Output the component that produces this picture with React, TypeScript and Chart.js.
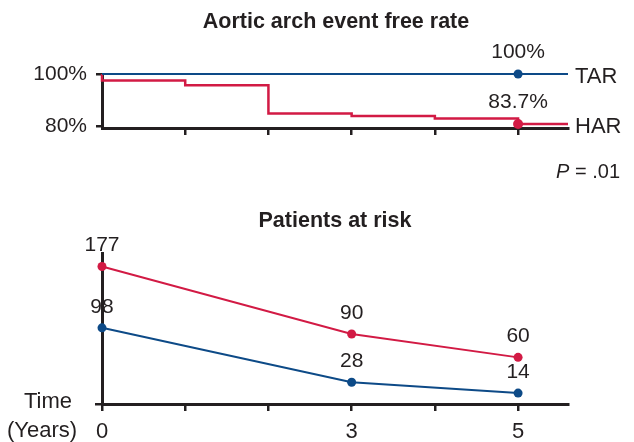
import React, { useEffect, useRef } from 'react';
import { Chart, registerables } from 'chart.js';

Chart.register(...registerables);

// ---------- data ----------
const topTitle = 'Aortic arch event free rate';
const bottomTitle = 'Patients at risk';
const seriesNames = ['TAR', 'HAR'];

const tarTimes = [0, 5, 5.6];
const tarRates = [100, 100, 100];
const harTimes = [0, 0, 1, 2, 3, 4, 5, 5.6];
const harRates = [100, 97.5, 95.7, 84.9, 83.9, 82.9, 80.8, 80.8];
const markerYear = 5;
const tarMarkerLabel = '100%';
const harMarkerLabel = '83.7%';
const pValueText = '.01';

const rateTickValues = [80, 90, 100];
const rateTickLabels: Record<number, string> = { 80: '80%', 90: '', 100: '100%' };
const topYearTicks = [1, 2, 3, 4, 5];

const riskYears = [0, 3, 5];
const tarAtRisk = [98, 28, 14];
const harAtRisk = [177, 90, 60];
const riskYearTicks = [0, 1, 2, 3, 4, 5];
const riskYearLabels = ['0', '', '', '3', '', '5'];
const axisTitleLines = ['Time', '(Years)'];

// ---------- styles ----------
const BLUE = '#0d4a87';
const RED = '#d21a44';
const INK = '#231f20';
const FONT = '"Liberation Sans", Arial, Helvetica, sans-serif';
const W = 634;
const TOP_H = 195;
const BOT_H = 247;

function setText(ctx: CanvasRenderingContext2D, size: number, weight = 'normal', style = 'normal') {
  ctx.font = `${style} ${weight} ${size}px ${FONT}`;
  ctx.fillStyle = INK;
}

const topPlugin = {
  id: 'topText',
  afterDraw(chart: any) {
    const ctx: CanvasRenderingContext2D = chart.ctx;
    const a = chart.chartArea;
    ctx.save();
    ctx.textBaseline = 'middle';
    // title
    setText(ctx, 21.5, 'bold');
    ctx.textAlign = 'center';
    ctx.fillText(topTitle, (a.left + a.right) / 2 + 1, 22);
    // marker labels
    setText(ctx, 21);
    const tarMeta = chart.getDatasetMeta(0);
    const harMeta = chart.getDatasetMeta(1);
    const ti = tarTimes.indexOf(markerYear);
    const hi = harTimes.indexOf(markerYear);
    const tp = tarMeta.data[ti];
    const hp = harMeta.data[hi];
    ctx.fillText(tarMarkerLabel, tp.x, tp.y - 22);
    ctx.fillText(harMarkerLabel, hp.x, hp.y - 22);
    // series names at line ends
    setText(ctx, 22);
    ctx.textAlign = 'left';
    const tEnd = tarMeta.data[tarMeta.data.length - 1];
    const hEnd = harMeta.data[harMeta.data.length - 1];
    ctx.fillText(seriesNames[0], a.right + 7, tEnd.y + 2.5);
    ctx.fillText(seriesNames[1], a.right + 7, hEnd.y + 2.5);
    // P value
    setText(ctx, 20);
    ctx.textAlign = 'right';
    const rest = ' = ' + pValueText;
    const restW = ctx.measureText(rest).width;
    ctx.fillText(rest, 620, 172);
    setText(ctx, 20, 'normal', 'italic');
    ctx.fillText('P', 620 - restW, 172);
    ctx.restore();
  },
};

const bottomPlugin = {
  id: 'bottomText',
  afterDraw(chart: any) {
    const ctx: CanvasRenderingContext2D = chart.ctx;
    const a = chart.chartArea;
    ctx.save();
    ctx.textBaseline = 'middle';
    setText(ctx, 21.5, 'bold');
    ctx.textAlign = 'center';
    ctx.fillText(bottomTitle, (a.left + a.right) / 2, 26);
    setText(ctx, 21);
    [0, 1].forEach((di) => {
      const meta = chart.getDatasetMeta(di);
      const vals = di === 0 ? tarAtRisk : harAtRisk;
      meta.data.forEach((pt: any, i: number) => {
        ctx.fillText(String(vals[i]), pt.x, pt.y - 21);
      });
    });
    setText(ctx, 22);
    ctx.textAlign = 'center';
    ctx.fillText(axisTitleLines[0], 48, a.bottom - 2);
    ctx.fillText(axisTitleLines[1], 42, a.bottom + 27);
    ctx.restore();
  },
};

export default function App() {
  const topRef = useRef<HTMLCanvasElement | null>(null);
  const botRef = useRef<HTMLCanvasElement | null>(null);

  useEffect(() => {
    Chart.defaults.font.family = FONT;
    Chart.defaults.color = INK;

    const axisBorder = { display: true, color: INK, width: 3 };

    const top = new Chart(topRef.current as HTMLCanvasElement, {
      type: 'line',
      data: {
        datasets: [
          {
            label: seriesNames[0],
            data: tarTimes.map((t, i) => ({ x: t, y: tarRates[i] })),
            borderColor: BLUE,
            backgroundColor: BLUE,
            borderWidth: 2,
            pointRadius: tarTimes.map((t) => (t === markerYear ? 4.5 : 0)),
            pointBorderWidth: 0,
            clip: false,
          },
          {
            label: seriesNames[1],
            data: harTimes.map((t, i) => ({ x: t, y: harRates[i] })),
            borderColor: RED,
            backgroundColor: RED,
            borderWidth: 2.5,
            stepped: 'before',
            pointRadius: harTimes.map((t) => (t === markerYear ? 5 : 0)),
            pointBorderWidth: 0,
            clip: false,
          },
        ],
      },
      options: {
        responsive: false,
        animation: false,
        devicePixelRatio: 1,
        layout: { padding: { left: 0, top: 74, right: 66, bottom: 0 } },
        plugins: { legend: { display: false }, tooltip: { enabled: false }, title: { display: false } },
        scales: {
          x: {
            type: 'linear',
            min: 0,
            max: 5.6,
            border: axisBorder,
            grid: { drawOnChartArea: false, drawTicks: true, tickLength: 7, lineWidth: 2.5, color: INK },
            ticks: { callback: () => '' },
            afterBuildTicks: (s: any) => {
              s.ticks = topYearTicks.map((v) => ({ value: v }));
            },
            afterFit: (s: any) => {
              s.height = TOP_H - 128;
            },
          },
          y: {
            type: 'linear',
            min: 79.3,
            max: 100,
            border: axisBorder,
            grid: { drawOnChartArea: false, drawTicks: true, tickLength: 6, lineWidth: 2.5, color: INK },
            ticks: {
              padding: 9,
              font: { size: 21 },
              color: INK,
              callback: (v: any) => rateTickLabels[Number(v)] ?? '',
            },
            afterBuildTicks: (s: any) => {
              s.ticks = rateTickValues.map((v) => ({ value: v }));
            },
            afterFit: (s: any) => {
              s.width = 102;
            },
          },
        },
      },
      plugins: [topPlugin],
    } as any);

    const bottom = new Chart(botRef.current as HTMLCanvasElement, {
      type: 'line',
      data: {
        datasets: [
          {
            label: seriesNames[0],
            data: riskYears.map((t, i) => ({ x: t, y: tarAtRisk[i] })),
            borderColor: BLUE,
            backgroundColor: BLUE,
            borderWidth: 2,
            pointRadius: 4.5,
            pointBorderWidth: 0,
            clip: false,
          },
          {
            label: seriesNames[1],
            data: riskYears.map((t, i) => ({ x: t, y: harAtRisk[i] })),
            borderColor: RED,
            backgroundColor: RED,
            borderWidth: 2,
            pointRadius: 4.5,
            pointBorderWidth: 0,
            clip: false,
          },
        ],
      },
      options: {
        responsive: false,
        animation: false,
        devicePixelRatio: 1,
        layout: { padding: { left: 0, top: 58, right: 66, bottom: 0 } },
        plugins: { legend: { display: false }, tooltip: { enabled: false }, title: { display: false } },
        scales: {
          x: {
            type: 'linear',
            min: 0,
            max: 5.6,
            border: axisBorder,
            grid: { drawOnChartArea: false, drawTicks: true, tickLength: 7, lineWidth: 2.5, color: INK },
            ticks: {
              padding: 8,
              font: { size: 22 },
              color: INK,
              maxRotation: 0,
              callback: (v: any) => {
                const i = riskYearTicks.indexOf(Number(v));
                return i >= 0 ? riskYearLabels[i] : '';
              },
            },
            afterBuildTicks: (s: any) => {
              s.ticks = riskYearTicks.map((v) => ({ value: v }));
            },
            afterFit: (s: any) => {
              s.height = BOT_H - 209;
            },
          },
          y: {
            type: 'linear',
            min: 0,
            max: 194.3,
            border: axisBorder,
            grid: { drawOnChartArea: false, drawTicks: true, tickLength: 7, lineWidth: 2.5, color: INK },
            ticks: { callback: () => '' },
            afterBuildTicks: (s: any) => {
              s.ticks = [{ value: 0 }];
            },
            afterFit: (s: any) => {
              s.width = 102;
            },
          },
        },
      },
      plugins: [bottomPlugin],
    } as any);

    return () => {
      top.destroy();
      bottom.destroy();
    };
  }, []);

  return (
    <div style={{ position: 'absolute', left: 0, top: 0, width: W, height: TOP_H + BOT_H, background: '#fff' }}>
      <canvas ref={topRef} width={W} height={TOP_H} style={{ position: 'absolute', left: 0, top: 0, display: 'block' }} />
      <canvas ref={botRef} width={W} height={BOT_H} style={{ position: 'absolute', left: 0, top: TOP_H, display: 'block' }} />
    </div>
  );
}
